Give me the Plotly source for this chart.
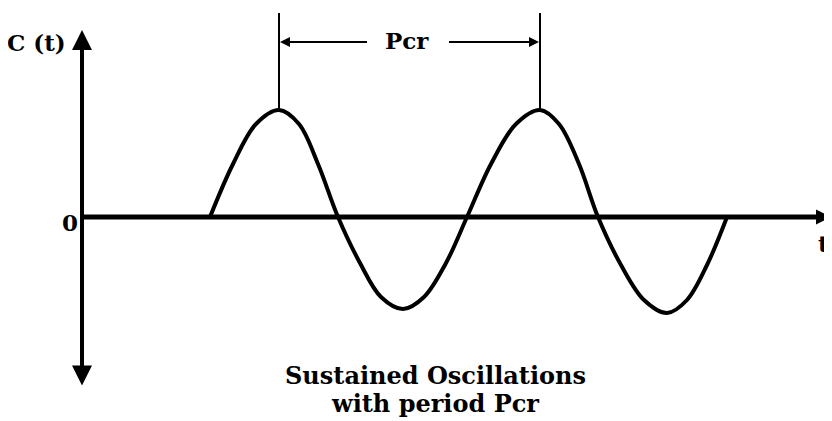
import plotly.graph_objects as go

# ---- data (diagram units; origin at the axis crossing, 1 unit ~ 1 px) ----
t_pts = [128, 151, 174, 197, 217, 236, 256,
         278, 299, 321, 342, 364, 385,
         409, 434, 458, 477, 497, 516,
         539, 562, 585, 605, 625, 645]
c_pts = [0, 53, 93, 107, 93, 53, 0,
         -46, -80, -92, -80, -46, 0,
         53, 93, 107, 93, 53, 0,
         -48, -83, -96, -83, -48, 0]
peak_t = [197, 458]          # peaks used for the Pcr markers
peak_c = [107, 107]
y_label = "C (t)"
x_label = "t"
origin_label = "0"
period_label = "Pcr"
caption = ["Sustained Oscillations", "with period Pcr"]

# ---- layout constants (page has an 8px body margin) ----
W, H = 824, 413
X_RANGE = [-74, 750]
Y_RANGE = [-204, 209]
V_TOP, V_BOT = 187, -170
H_END = 749
MARK_TOP = 204
ARROW_C = 175
FONT = "DejaVu Serif"
FS = 23

fig = go.Figure()
fig.add_trace(go.Scatter(
    x=t_pts, y=c_pts, mode="lines",
    line=dict(color="black", width=4, shape="spline", smoothing=1.0),
    hoverinfo="skip", showlegend=False,
))

shapes = []
for pt, pc in zip(peak_t, peak_c):
    shapes.append(dict(type="line", xref="x", yref="y", x0=pt, x1=pt, y0=pc, y1=MARK_TOP,
                       line=dict(color="black", width=2)))

ann = []
# vertical axis (double arrow)
ann.append(dict(x=0, y=V_TOP, ax=0, ay=V_BOT, xref="x", yref="y", axref="x", ayref="y",
                text="", showarrow=True, arrowhead=2, startarrowhead=2, arrowside="end+start",
                arrowwidth=4, arrowsize=1, startarrowsize=1, arrowcolor="black"))
# horizontal axis
ann.append(dict(x=H_END, y=0, ax=0, ay=0, xref="x", yref="y", axref="x", ayref="y",
                text="", showarrow=True, arrowhead=2, arrowwidth=5, arrowsize=0.6,
                arrowcolor="black"))
# Pcr arrows
mid = (peak_t[0] + peak_t[1]) / 2
ann.append(dict(x=peak_t[0] + 1, y=ARROW_C, ax=mid - 41, ay=ARROW_C, xref="x", yref="y",
                axref="x", ayref="y", text="", showarrow=True, arrowhead=2, arrowwidth=2,
                arrowsize=1, arrowcolor="black"))
ann.append(dict(x=peak_t[1] - 1, y=ARROW_C, ax=mid + 38, ay=ARROW_C, xref="x", yref="y",
                axref="x", ayref="y", text="", showarrow=True, arrowhead=2, arrowwidth=2,
                arrowsize=1, arrowcolor="black"))

def txt(s, x, y, xa="center", ya="middle", fs=FS):
    return dict(x=x, y=y, xref="x", yref="y", text=f"<b>{s}</b>", showarrow=False,
                xanchor=xa, yanchor=ya, font=dict(family=FONT, size=fs, color="black"))

ann.append(txt(period_label, mid - 3, ARROW_C + 2))
ann.append(txt(y_label, -14, ARROW_C, xa="right"))
ann.append(txt(origin_label, -2, -5, xa="right"))
ann.append(txt(x_label, 741, -26))
ann.append(txt(caption[0], 353, -158, fs=24))
ann.append(txt(caption[1], 353, -186, fs=24))

fig.update_layout(
    width=W, height=H, margin=dict(l=0, r=0, t=0, b=0),
    paper_bgcolor="white", plot_bgcolor="white",
    xaxis=dict(range=X_RANGE, visible=False, fixedrange=True),
    yaxis=dict(range=Y_RANGE, visible=False, fixedrange=True),
    shapes=shapes, annotations=ann, showlegend=False,
)
fig.write_html("out.html")
